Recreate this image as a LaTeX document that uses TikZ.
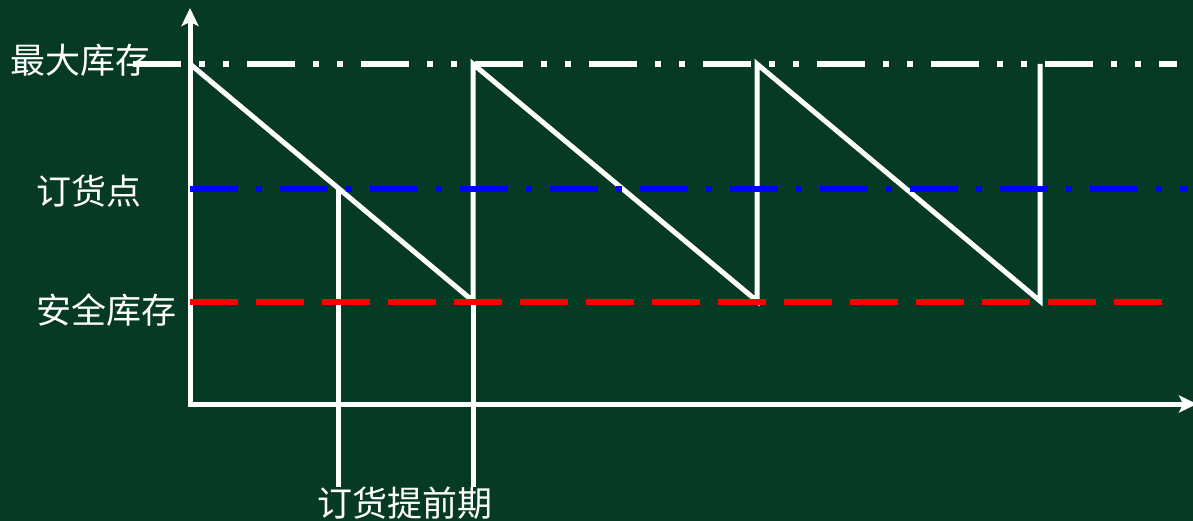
\documentclass[tikz,border=0pt]{standalone}
\usepackage{fontspec}
\newfontfamily\cjk{Noto Sans CJK SC}
\usetikzlibrary{arrows.meta}
\definecolor{bg}{RGB}{6,58,36}
\definecolor{rline}{RGB}{255,0,0}
\definecolor{bline}{RGB}{0,0,255}
\tikzset{
  lbl/.style={text=white,inner sep=0pt,font=\cjk\fontsize{35}{35}\selectfont},
  wline/.style={draw=white,line width=5pt,line join=miter},
  axisline/.style={draw=white,line width=5pt,line join=miter,
    {Stealth[length=18pt,width=17pt,inset=4pt]}-{Stealth[length=18pt,width=17pt,inset=4pt]}},
  maxline/.style={draw=white,line width=6pt,
    dash pattern=on 48pt off 18pt on 6pt off 18pt on 6pt off 18pt},
  ropline/.style={draw=bline,line width=6pt,
    dash pattern=on 48pt off 18pt on 6pt off 18pt},
  safeline/.style={draw=rline,line width=6pt,
    dash pattern=on 48pt off 18pt},
}
\begin{document}
\begin{tikzpicture}[x=1pt,y=-1pt]
\fill[bg] (0,0) rectangle (1193,521);
\useasboundingbox (0,0) rectangle (1193,521);
\clip (0,0) rectangle (1193,521);
% coordinates
\coordinate (ytop) at (190,8);
\coordinate (o) at (190,404);
\coordinate (xend) at (1197,404);
\coordinate (m0) at (190,64);
\coordinate (s1) at (473,301);
\coordinate (m1) at (473,64);
\coordinate (s2) at (757,301);
\coordinate (m2) at (757,64);
\coordinate (s3) at (1040,301);
\coordinate (m3) at (1040,64);
\coordinate (r1) at (338,188);
\coordinate (r1b) at (338,487);
\coordinate (s1b) at (473,487);
\coordinate (maxL) at (133,64);
\coordinate (maxR) at (1177,64);
\coordinate (ropL) at (190,189);
\coordinate (ropR) at (1188,189);
\coordinate (safL) at (190,302);
\coordinate (safR) at (1162,302);
% axes
\draw[axisline] (ytop) -- (o) -- (xend);
% sawtooth
\draw[wline] (m0) -- (s1) -- (m1) -- (s2) -- (m2) -- (s3) -- (m3);
% lead time lines
\draw[wline] (r1) -- (r1b);
\draw[wline] (s1) -- (s1b);
% level lines
\draw[maxline] (maxL) -- (maxR);
\draw[ropline] (ropL) -- (ropR);
\draw[safeline] (safL) -- (safR);
% labels
\node[lbl] (lmax) at (80,60) {最大库存};
\node[lbl] (lrop) at (89,191) {订货点};
\node[lbl] (lsafe) at (106,310) {安全库存};
\node[lbl] (llead) at (405,503) {订货提前期};
\end{tikzpicture}
\end{document}
